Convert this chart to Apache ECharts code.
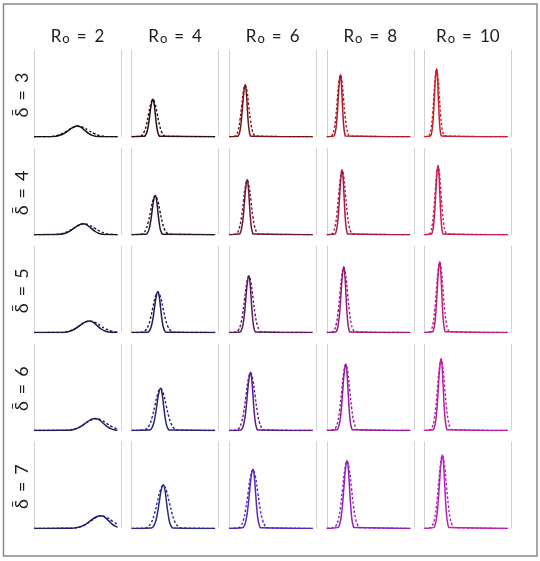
<!DOCTYPE html>
<html><head><meta charset="utf-8">
<script src="https://cdn.jsdelivr.net/npm/echarts@6/dist/echarts.min.js"></script>
<style>html,body{margin:0;padding:0;background:#fff}#c{width:540px;height:561px}</style>
</head><body><div id="c"></div>
<script>
// Column headers (R0) and row headers (delta bar)
const r0Values = [2, 4, 6, 8, 10];
const deltaValues = [3, 4, 5, 6, 7];

// Curve colours per row (delta) and column (R0)
const colorsD3 = ['#121212', '#2a1010', '#781616', '#ae1a24', '#cf1f2c'];
const colorsD4 = ['#18182a', '#28142e', '#6c1838', '#a81a4c', '#c91d52'];
const colorsD5 = ['#1b1b46', '#241c54', '#5c1a62', '#961c78', '#c01e80'];
const colorsD6 = ['#1d1d5c', '#262674', '#581e88', '#941e9e', '#bb20a4'];
const colorsD7 = ['#1e1e6e', '#2a2a88', '#5628c0', '#9022c2', '#b622ba'];

// x: % of panel width, y: % of panel height
const solidD3 = [
  [[0,0],[19.8,0.1],[24.8,0.5],[29.8,1.7],[34.8,4.0],[39.8,7.5],[44.8,10.8],[49.8,12.3],[54.1,10.8],[58.4,7.5],[62.7,4.0],[67.0,1.7],[71.3,0.5],[75.6,0.1],[96,0]],
  [[0,0],[14.3,0.5],[16.0,1.9],[17.7,5.8],[19.4,14.1],[21.1,26.3],[22.8,38.2],[24.5,43.3],[25.9,38.2],[27.2,26.3],[28.6,14.1],[29.9,5.8],[31.3,1.9],[32.6,0.5],[96,0]],
  [[0,0],[9.7,0.7],[11.2,2.6],[12.6,8.1],[14.0,19.5],[15.5,36.5],[17.0,53.0],[18.4,60.1],[19.5,53.0],[20.6,36.5],[21.7,19.5],[22.8,8.1],[23.9,2.6],[25.0,0.7],[96,0]],
  [[0,0],[7.9,0.8],[9.2,3.2],[10.5,9.7],[11.8,23.3],[13.1,43.5],[14.4,63.1],[15.7,71.6],[16.7,63.1],[17.7,43.5],[18.7,23.3],[19.7,9.7],[20.7,3.2],[21.7,0.8],[96,0]],
  [[0,0],[6.8,0.9],[8.0,3.5],[9.2,10.6],[10.4,25.5],[11.6,47.6],[12.8,69.2],[14.0,78.5],[15.0,69.2],[15.9,47.6],[16.9,25.5],[17.8,10.6],[18.8,3.5],[19.7,0.9],[96,0]]
];
const dashedD3 = [
  [[0,0],[14.8,0.1],[20.8,0.5],[26.8,1.6],[32.8,3.9],[38.8,7.3],[44.8,10.7],[50.8,12.1],[56.8,10.7],[62.8,7.3],[68.8,3.9],[74.8,1.6],[80.8,0.5],[86.8,0.1],[96,0]],
  [[0,0],[9.5,0.5],[12.0,1.9],[14.5,5.8],[17.0,13.9],[19.5,26.0],[22.0,37.7],[24.5,42.8],[27.0,37.7],[29.5,26.0],[32.0,13.9],[34.5,5.8],[37.0,1.9],[39.5,0.5],[96,0]],
  [[0,0],[6.4,0.7],[8.4,2.6],[10.4,8.0],[12.4,19.3],[14.4,36.1],[16.4,52.5],[18.4,59.5],[20.4,52.5],[22.4,36.1],[24.4,19.3],[26.4,8.0],[28.4,2.6],[30.4,0.7],[96,0]],
  [[0,0],[4.9,0.8],[6.7,3.1],[8.5,9.6],[10.3,23.1],[12.1,43.1],[13.9,62.6],[15.7,71.0],[17.5,62.6],[19.3,43.1],[21.1,23.1],[22.9,9.6],[24.7,3.1],[26.5,0.8],[96,0]],
  [[0,0],[4.7,0.9],[6.3,3.4],[7.8,10.5],[9.4,25.3],[10.9,47.2],[12.5,68.6],[14.0,77.8],[15.6,68.6],[17.1,47.2],[18.7,25.3],[20.2,10.5],[21.8,3.4],[23.3,0.9],[96,0]]
];
const solidD4 = [
  [[0,0],[25.4,0.1],[30.6,0.6],[35.8,1.7],[41.0,4.1],[46.2,7.6],[51.4,11.1],[56.6,12.6],[61.0,11.1],[65.4,7.6],[69.8,4.1],[74.2,1.7],[78.6,0.6],[83.0,0.1],[96,0]],
  [[0,0],[16.4,0.5],[18.2,2.0],[20.0,6.1],[21.8,14.7],[23.6,27.4],[25.4,39.9],[27.2,45.2],[28.7,39.9],[30.1,27.4],[31.6,14.7],[33.0,6.1],[34.5,2.0],[35.9,0.5],[96,0]],
  [[0,0],[11.4,0.7],[13.0,2.8],[14.5,8.5],[16.1,20.5],[17.6,38.4],[19.2,55.7],[20.7,63.2],[21.9,55.7],[23.1,38.4],[24.3,20.5],[25.5,8.5],[26.7,2.8],[27.9,0.7],[96,0]],
  [[0,0],[9.2,0.8],[10.6,3.3],[12.0,10.1],[13.4,24.3],[14.8,45.3],[16.2,65.9],[17.6,74.7],[18.7,65.9],[19.8,45.3],[20.9,24.3],[22.0,10.1],[23.1,3.3],[24.2,0.8],[96,0]],
  [[0,0],[7.9,0.9],[9.2,3.5],[10.5,10.7],[11.8,25.9],[13.1,48.3],[14.4,70.2],[15.7,79.6],[16.7,70.2],[17.7,48.3],[18.7,25.9],[19.7,10.7],[20.7,3.5],[21.7,0.9],[96,0]]
];
const dashedD4 = [
  [[0,0],[21.6,0.1],[27.6,0.5],[33.6,1.7],[39.6,4.0],[45.6,7.5],[51.6,10.9],[57.6,12.4],[63.6,10.9],[69.6,7.5],[75.6,4.0],[81.6,1.7],[87.6,0.5],[93.6,0.1],[96,0]],
  [[0,0],[11.0,0.5],[13.7,2.0],[16.4,6.0],[19.1,14.5],[21.8,27.1],[24.5,39.4],[27.2,44.7],[29.9,39.4],[32.6,27.1],[35.3,14.5],[38.0,6.0],[40.7,2.0],[43.4,0.5],[96,0]],
  [[0,0],[7.5,0.7],[9.7,2.8],[11.9,8.5],[14.1,20.3],[16.3,38.0],[18.5,55.2],[20.7,62.6],[22.9,55.2],[25.1,38.0],[27.3,20.3],[29.5,8.5],[31.7,2.8],[33.9,0.7],[96,0]],
  [[0,0],[5.6,0.8],[7.6,3.3],[9.6,10.0],[11.6,24.1],[13.6,44.9],[15.6,65.3],[17.6,74.0],[19.6,65.3],[21.6,44.9],[23.6,24.1],[25.6,10.0],[27.6,3.3],[29.6,0.8],[96,0]],
  [[0,0],[5.5,0.9],[7.2,3.5],[8.9,10.7],[10.6,25.6],[12.3,47.9],[14.0,69.6],[15.7,78.9],[17.4,69.6],[19.1,47.9],[20.8,25.6],[22.5,10.7],[24.2,3.5],[25.9,0.9],[96,0]]
];
const solidD5 = [
  [[0,0],[31.1,0.1],[36.5,0.6],[41.9,1.8],[47.3,4.4],[52.7,8.1],[58.1,11.8],[63.5,13.4],[68.0,11.8],[72.5,8.1],[77.0,4.4],[81.5,1.8],[86.0,0.6],[90.5,0.1],[96,0]],
  [[0,0],[18.5,0.5],[20.5,2.1],[22.4,6.4],[24.4,15.3],[26.3,28.6],[28.3,41.5],[30.2,47.1],[31.8,41.5],[33.3,28.6],[34.9,15.3],[36.4,6.4],[38.0,2.1],[39.5,0.5],[96,0]],
  [[0,0],[12.4,0.7],[14.1,2.9],[15.8,8.8],[17.5,21.3],[19.2,39.8],[20.9,57.8],[22.6,65.5],[23.9,57.8],[25.2,39.8],[26.5,21.3],[27.8,8.8],[29.1,2.9],[30.4,0.7],[96,0]],
  [[0,0],[10.2,0.8],[11.8,3.3],[13.3,10.2],[14.9,24.6],[16.4,46.0],[18.0,66.9],[19.5,75.8],[20.7,66.9],[21.9,46.0],[23.1,24.6],[24.3,10.2],[25.5,3.3],[26.7,0.8],[96,0]],
  [[0,0],[9.2,0.9],[10.6,3.6],[12.0,11.0],[13.4,26.5],[14.8,49.5],[16.2,72.0],[17.6,81.6],[18.7,72.0],[19.8,49.5],[20.9,26.5],[22.0,11.0],[23.1,3.6],[24.2,0.9],[96,0]]
];
const dashedD5 = [
  [[0,0],[28.5,0.1],[34.5,0.6],[40.5,1.8],[46.5,4.3],[52.5,8.0],[58.5,11.6],[64.5,13.2],[70.5,11.6],[76.5,8.0],[82.5,4.3],[88.5,1.8],[94.5,0.6],[96,0.4]],
  [[0,0],[12.5,0.5],[15.5,2.1],[18.4,6.3],[21.4,15.1],[24.3,28.3],[27.3,41.1],[30.2,46.6],[33.2,41.1],[36.1,28.3],[39.1,15.1],[42.0,6.3],[45.0,2.1],[47.9,0.5],[96,0]],
  [[0,0],[8.2,0.7],[10.6,2.9],[13.0,8.8],[15.4,21.1],[17.8,39.4],[20.2,57.2],[22.6,64.9],[25.0,57.2],[27.4,39.4],[29.8,21.1],[32.2,8.8],[34.6,2.9],[37.0,0.7],[96,0]],
  [[0,0],[6.6,0.8],[8.8,3.3],[10.9,10.1],[13.1,24.4],[15.2,45.6],[17.4,66.2],[19.5,75.1],[21.7,66.2],[23.8,45.6],[26.0,24.4],[28.1,10.1],[30.3,3.3],[32.4,0.8],[96,0]],
  [[0,0],[6.2,0.9],[8.1,3.6],[10.0,10.9],[11.9,26.3],[13.8,49.1],[15.7,71.4],[17.6,80.9],[19.5,71.4],[21.4,49.1],[23.3,26.3],[25.2,10.9],[27.1,3.6],[29.0,0.9],[96,0]]
];
const solidD6 = [
  [[0,0],[36.8,0.2],[42.4,0.6],[48.0,1.9],[53.6,4.5],[59.2,8.4],[64.8,12.2],[70.4,13.8],[75.0,12.2],[79.6,8.4],[84.2,4.5],[88.8,1.9],[93.4,0.6],[96,0.3]],
  [[0,0],[20.7,0.5],[22.8,2.1],[24.9,6.6],[27.0,15.8],[29.1,29.5],[31.2,42.9],[33.3,48.6],[35.0,42.9],[36.7,29.5],[38.4,15.8],[40.1,6.6],[41.8,2.1],[43.5,0.5],[96,0]],
  [[0,0],[13.4,0.7],[15.3,2.9],[17.1,9.0],[19.0,21.8],[20.8,40.7],[22.7,59.1],[24.5,67.0],[25.9,59.1],[27.3,40.7],[28.7,21.8],[30.1,9.0],[31.5,2.9],[32.9,0.7],[96,0]],
  [[0,0],[11.6,0.8],[13.3,3.4],[15.0,10.3],[16.7,24.9],[18.4,46.5],[20.1,67.6],[21.8,76.6],[23.1,67.6],[24.4,46.5],[25.7,24.9],[27.0,10.3],[28.3,3.4],[29.6,0.8],[96,0]],
  [[0,0],[9.9,0.9],[11.5,3.6],[13.0,11.2],[14.6,26.9],[16.1,50.2],[17.7,72.9],[19.2,82.7],[20.4,72.9],[21.6,50.2],[22.8,26.9],[24.0,11.2],[25.2,3.6],[26.4,0.9],[96,0]]
];
const dashedD6 = [
  [[0,0],[35.4,0.2],[41.4,0.6],[47.4,1.8],[53.4,4.4],[59.4,8.2],[65.4,12.0],[71.4,13.6],[77.4,12.0],[83.4,8.2],[89.4,4.4],[96,1.7]],
  [[0,0],[14.1,0.5],[17.3,2.1],[20.5,6.5],[23.7,15.6],[26.9,29.2],[30.1,42.4],[33.3,48.1],[36.5,42.4],[39.7,29.2],[42.9,15.6],[46.1,6.5],[49.3,2.1],[52.5,0.5],[96,0]],
  [[0,0],[8.9,0.7],[11.5,2.9],[14.1,9.0],[16.7,21.6],[19.3,40.3],[21.9,58.6],[24.5,66.4],[27.1,58.6],[29.7,40.3],[32.3,21.6],[34.9,9.0],[37.5,2.9],[40.1,0.7],[96,0]],
  [[0,0],[8.0,0.8],[10.3,3.3],[12.6,10.2],[14.9,24.7],[17.2,46.0],[19.5,66.9],[21.8,75.9],[24.1,66.9],[26.4,46.0],[28.7,24.7],[31.0,10.2],[33.3,3.3],[35.6,0.8],[96,0]],
  [[0,0],[6.9,0.9],[9.0,3.6],[11.0,11.1],[13.1,26.7],[15.1,49.8],[17.2,72.3],[19.2,82.0],[21.3,72.3],[23.3,49.8],[25.4,26.7],[27.4,11.1],[29.5,3.6],[31.5,0.9],[96,0]]
];
const solidD7 = [
  [[0,0],[41.8,0.2],[47.6,0.6],[53.4,2.0],[59.2,4.7],[65.0,8.9],[70.8,12.9],[76.6,14.6],[81.1,12.9],[85.6,8.9],[90.1,4.7],[94.6,2.0],[96,1.4]],
  [[0,0],[22.6,0.6],[24.9,2.2],[27.2,6.8],[29.5,16.3],[31.8,30.5],[34.1,44.3],[36.4,50.2],[38.3,44.3],[40.1,30.5],[42.0,16.3],[43.8,6.8],[45.7,2.2],[47.5,0.6],[96,0]],
  [[0,0],[15.3,0.7],[17.3,3.0],[19.3,9.2],[21.3,22.1],[23.3,41.3],[25.3,60.1],[27.3,68.1],[28.8,60.1],[30.3,41.3],[31.8,22.1],[33.3,9.2],[34.8,3.0],[36.3,0.7],[96,0]],
  [[0,0],[12.5,0.9],[14.3,3.4],[16.1,10.5],[17.9,25.4],[19.7,47.4],[21.5,68.9],[23.3,78.1],[24.7,68.9],[26.1,47.4],[27.5,25.4],[28.9,10.5],[30.3,3.4],[31.7,0.9],[96,0]],
  [[0,0],[10.5,0.9],[12.2,3.7],[13.9,11.4],[15.6,27.5],[17.3,51.3],[19.0,74.6],[20.7,84.6],[22.0,74.6],[23.3,51.3],[24.6,27.5],[25.9,11.4],[27.2,3.7],[28.5,0.9],[96,0]]
];
const dashedD7 = [
  [[0,0],[41.6,0.2],[47.6,0.6],[53.6,1.9],[59.6,4.7],[65.6,8.7],[71.6,12.7],[77.6,14.4],[83.6,12.7],[89.6,8.7],[96,4.4]],
  [[0,0],[15.7,0.5],[19.2,2.2],[22.6,6.7],[26.1,16.1],[29.5,30.1],[33.0,43.7],[36.4,49.6],[39.9,43.7],[43.3,30.1],[46.8,16.1],[50.2,6.7],[53.7,2.2],[57.1,0.5],[96,0]],
  [[0,0],[10.5,0.7],[13.3,3.0],[16.1,9.1],[18.9,21.9],[21.7,40.9],[24.5,59.5],[27.3,67.5],[30.1,59.5],[32.9,40.9],[35.7,21.9],[38.5,9.1],[41.3,3.0],[44.1,0.7],[96,0]],
  [[0,0],[8.3,0.9],[10.8,3.4],[13.3,10.4],[15.8,25.2],[18.3,47.0],[20.8,68.3],[23.3,77.4],[25.8,68.3],[28.3,47.0],[30.8,25.2],[33.3,10.4],[35.8,3.4],[38.3,0.9],[96,0]],
  [[0,0],[7.2,0.9],[9.5,3.7],[11.7,11.3],[14.0,27.3],[16.2,50.9],[18.5,74.0],[20.7,83.9],[23.0,74.0],[25.2,50.9],[27.5,27.3],[29.7,11.3],[32.0,3.7],[34.2,0.9],[96,0]]
];

const solidRows = [solidD3, solidD4, solidD5, solidD6, solidD7];
const dashedRows = [dashedD3, dashedD4, dashedD5, dashedD6, dashedD7];
const colorRows = [colorsD3, colorsD4, colorsD5, colorsD6, colorsD7];

const chart = echarts.init(document.getElementById('c'), null, { renderer: 'canvas' });
const GL = 34, GT = 50, STEPX = 97.6, STEPY = 97.9, W = 87, H = 86.8;
const FONT = 'Lato, "Open Sans", "DejaVu Sans", sans-serif';
const TXT = '#1c1c1c';
const grids = [], xAxes = [], yAxes = [], series = [], graphics = [];

for (let r = 0; r < 5; r++) {
  for (let c = 0; c < 5; c++) {
    const idx = r * 5 + c;
    grids.push({ left: GL + c * STEPX, top: GT + r * STEPY, width: W, height: H });
    xAxes.push({
      gridIndex: idx, type: 'value', min: 0, max: 100, interval: 100,
      axisLine: { show: false }, axisTick: { show: false }, axisLabel: { show: false },
      splitLine: { show: true, showMinLine: true, showMaxLine: true, lineStyle: { color: '#d2d2d2', width: 1 } }
    });
    yAxes.push({
      gridIndex: idx, type: 'value', min: 0, max: 100,
      axisLine: { show: false }, axisTick: { show: false }, axisLabel: { show: false }, splitLine: { show: false }
    });
    const col = colorRows[r][c];
    series.push({
      type: 'line', xAxisIndex: idx, yAxisIndex: idx, data: solidRows[r][c],
      smooth: 0.5, symbol: 'none', silent: true,
      lineStyle: { color: col, width: 1.5 }
    });
    series.push({
      type: 'line', xAxisIndex: idx, yAxisIndex: idx, data: dashedRows[r][c],
      smooth: 0.5, symbol: 'none', silent: true,
      lineStyle: { color: col, width: 1.4, type: [2.5, 2] }
    });
  }
}

graphics.push({
  type: 'rect', silent: true,
  shape: { x: 3.5, y: 4, width: 533.5, height: 552 },
  style: { fill: 'none', stroke: '#8a8a8a', lineWidth: 1.5 }
});
r0Values.forEach((v, c) => {
  graphics.push({
    type: 'text', silent: true,
    x: GL + c * STEPX + W / 2, y: 37,
    style: {
      text: '{r|R}{s|o}{e|=}{r|' + v + '}',
      align: 'center', verticalAlign: 'middle',
      rich: {
        r: { fontSize: 17, fontFamily: FONT, fill: TXT },
        s: { fontSize: 13, fontFamily: FONT, fill: TXT, padding: [4, 0, 0, 1] },
        e: { fontSize: 17, fontFamily: FONT, fill: TXT, padding: [0, 8, 0, 7] }
      }
    }
  });
});
deltaValues.forEach((v, r) => {
  graphics.push({
    type: 'text', silent: true,
    x: 22, y: GT + r * STEPY + 45, rotation: Math.PI / 2,
    style: {
      text: '{d|δ\u0304}{e|=}{d|' + v + '}',
      align: 'center', verticalAlign: 'middle',
      rich: {
        d: { fontSize: 18, fontFamily: FONT, fill: TXT },
        e: { fontSize: 18, fontFamily: FONT, fill: TXT, padding: [0, 7, 0, 7] }
      }
    }
  });
});

chart.setOption({
  animation: false,
  backgroundColor: '#ffffff',
  grid: grids, xAxis: xAxes, yAxis: yAxes, series: series,
  graphic: graphics
});
</script></body></html>
